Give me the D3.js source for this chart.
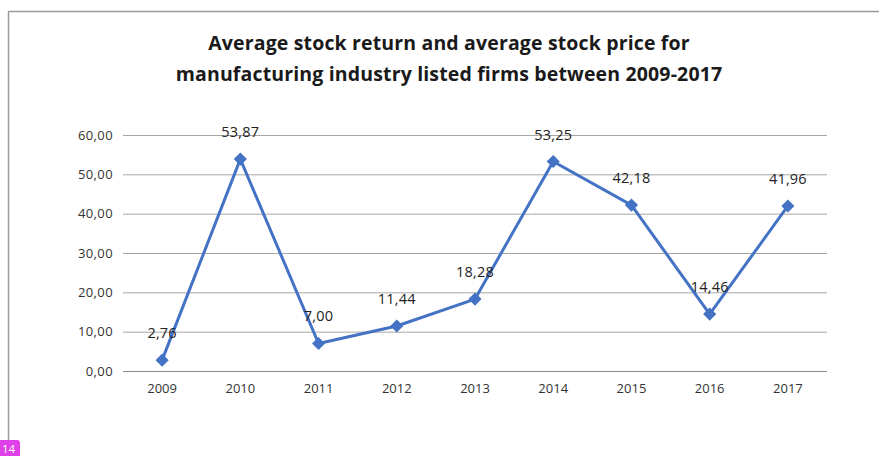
<!DOCTYPE html>
<html lang="en">
<head>
<meta charset="UTF-8">
<title>stock return</title>
<style>
  body { margin: 0; background: #fff; }
  svg { display: block; font-family: "Open Sans", "Liberation Sans", sans-serif; }
</style>
</head>
<body>
<svg id="chart" width="879" height="456"></svg>
<script src="https://cdn.jsdelivr.net/npm/d3@7"></script>
<script>
// data
const years = ["2009", "2010", "2011", "2012", "2013", "2014", "2015", "2016", "2017"];
const values = [2.76, 53.87, 7.00, 11.44, 18.28, 53.25, 42.18, 14.46, 41.96];
const yTicks = [0, 10, 20, 30, 40, 50, 60];
const titleLines = ["Average stock return and average stock price for",
                    "manufacturing industry listed firms between 2009-2017"];

const svg = d3.select("#chart");
const fmt = v => d3.format(".2f")(v).replace(".", ",");

// frame of the chart box
svg.append("line").attr("x1", 8.5).attr("x2", 879).attr("y1", 11.5).attr("y2", 11.5)
  .attr("stroke", "#9a9a9a").attr("stroke-width", 1.5);
svg.append("line").attr("x1", 8.5).attr("x2", 8.5).attr("y1", 11).attr("y2", 456)
  .attr("stroke", "#9a9a9a").attr("stroke-width", 1.5);

// page marker in the corner
svg.append("rect").attr("x", -4).attr("y", 440).attr("width", 24).attr("height", 22)
  .attr("rx", 3).attr("fill", "#e040e8");
svg.append("text").attr("x", 2).attr("y", 453)
  .attr("fill", "#fff").attr("font-size", 11.5).text("14");

// title
svg.append("text").attr("x", 449).attr("y", 50).attr("text-anchor", "middle")
  .attr("font-size", 19.5).attr("font-weight", "bold").attr("letter-spacing", 0.15)
  .attr("fill", "#1a1a1a")
  .selectAll("tspan").data(titleLines).enter().append("tspan")
  .attr("x", 449).attr("dy", (d, i) => i ? 31 : 0).text(d => d);

const x = d3.scaleBand().domain(years).range([123, 827]);
const y = d3.scaleLinear().domain([0, 60]).range([371, 135]);

// gridlines
svg.append("g").selectAll("line").data(yTicks).enter().append("line")
  .attr("x1", 123).attr("x2", 827)
  .attr("y1", d => y(d) + 0.5).attr("y2", d => y(d) + 0.5)
  .attr("stroke", d => d === 0 ? "#8c8c8c" : "#a6a6a6").attr("stroke-width", 1);

// y axis labels
const yAxis = svg.append("g").attr("transform", "translate(123,0)")
  .call(d3.axisLeft(y).tickValues(yTicks).tickFormat(fmt).tickSize(0).tickPadding(10));
yAxis.select(".domain").remove();
yAxis.selectAll("text").attr("font-size", 13).attr("letter-spacing", 0.4).attr("fill", "#333")
  .attr("font-family", "'Open Sans', sans-serif");

// x axis labels
const xAxis = svg.append("g").attr("transform", "translate(0,371)")
  .call(d3.axisBottom(x).tickSize(0).tickPadding(13));
xAxis.select(".domain").remove();
xAxis.selectAll("text").attr("font-size", 13).attr("fill", "#333")
  .attr("font-family", "'Open Sans', sans-serif");

const cx = d => x(d) + x.bandwidth() / 2;
const pts = years.map((yr, i) => ({yr, v: values[i]}));

svg.append("path").datum(pts)
  .attr("d", d3.line().x(d => cx(d.yr)).y(d => y(d.v)))
  .attr("fill", "none").attr("stroke", "#4472c4").attr("stroke-width", 3)
  .attr("stroke-linejoin", "round");

svg.append("g").selectAll("path").data(pts).enter().append("path")
  .attr("d", d3.symbol(d3.symbolDiamond2, 110))
  .attr("transform", d => `translate(${cx(d.yr)},${y(d.v)})`)
  .attr("fill", "#4472c4");

svg.append("g").selectAll("text").data(pts).enter().append("text")
  .attr("x", d => cx(d.yr)).attr("y", d => y(d.v) - 22)
  .attr("text-anchor", "middle").attr("font-size", 14.5).attr("letter-spacing", 0.2)
  .attr("fill", "#222")
  .text(d => fmt(d.v));
</script>
</body>
</html>
